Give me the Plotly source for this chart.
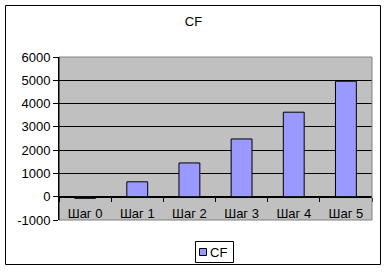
import plotly.graph_objects as go

categories = ["Шаг 0", "Шаг 1", "Шаг 2", "Шаг 3", "Шаг 4", "Шаг 5"]
cf_values = [-70, 640, 1450, 2480, 3630, 4960]
y_ticks = [-1000, 0, 1000, 2000, 3000, 4000, 5000, 6000]
series_name = "CF"
bar_color = "#9999FF"

W, H = 387, 272
L, R, T, B = 59, 15, 57, 52
pw, ph = W - L - R, H - T - B

def px_x(p):
    return (p - L) / pw

def px_y(p):
    return (H - B - p) / ph

fig = go.Figure()
fig.add_trace(go.Bar(
    x=categories, y=cf_values, name=series_name, width=0.4,
    marker=dict(color=bar_color, line=dict(color="black", width=1)),
    showlegend=False,
))

ymin, ymax = y_ticks[0], y_ticks[-1]
zero_pos = (0 - ymin) / (ymax - ymin)

font = dict(family="Liberation Sans, Arial", size=13, color="black")

fig.update_layout(
    width=W, height=H,
    margin=dict(l=L, r=R, t=T, b=B, autoexpand=False),
    paper_bgcolor="white",
    plot_bgcolor="#C0C0C0",
    font=font,
    title=dict(text=series_name, x=0.5, xref="container", xanchor="center",
               y=1 - 21 / H, yref="container", yanchor="middle",
               font=dict(family="Liberation Sans, Arial", size=13, color="black")),
    showlegend=False,
    xaxis=dict(
        range=[-0.5, 5.5], anchor="free", position=zero_pos,
        showline=True, linecolor="black", linewidth=1,
        ticks="outside", tickson="boundaries", ticklen=4, tickcolor="black",
        ticklabelstandoff=5,
        showgrid=False, zeroline=False, tickfont=font, fixedrange=True,
    ),
    yaxis=dict(
        range=[ymin, ymax], tickvals=y_ticks, ticktext=[str(v) for v in y_ticks],
        showline=True, linecolor="black", linewidth=1,
        ticks="outside", ticklen=5, tickcolor="black",
        showgrid=True, gridcolor="black", gridwidth=1, zeroline=False,
        tickfont=font, fixedrange=True,
    ),
)

gray = dict(color="#808080", width=1)
fig.add_shape(type="line", xref="paper", yref="paper", x0=0, x1=1, y0=1, y1=1, line=gray, layer="above")
fig.add_shape(type="line", xref="paper", yref="paper", x0=0, x1=1, y0=0, y1=0, line=gray, layer="above")
fig.add_shape(type="line", xref="paper", yref="paper", x0=1, x1=1, y0=0, y1=1, line=gray, layer="above")
fig.add_shape(type="line", xref="paper", yref="paper", x0=0, x1=0, y0=0, y1=1, line=dict(color="black", width=1), layer="above")
# outer chart border
fig.add_shape(type="rect", xref="paper", yref="paper",
              x0=px_x(5.5), x1=px_x(380.5), y0=px_y(264.5), y1=px_y(5.5),
              line=dict(color="black", width=1), layer="above")

# legend (box, swatch, label)
fig.add_shape(type="rect", xref="paper", yref="paper",
              x0=px_x(195.5), x1=px_x(233.5), y0=px_y(262.5), y1=px_y(241.5),
              line=dict(color="black", width=1), fillcolor="white", layer="above")
fig.add_shape(type="rect", xref="paper", yref="paper",
              x0=px_x(199.5), x1=px_x(206.5), y0=px_y(255.5), y1=px_y(248.5),
              line=dict(color="black", width=1), fillcolor=bar_color, layer="above")
fig.add_annotation(text=series_name, xref="paper", yref="paper",
                   x=px_x(208), y=px_y(252), xanchor="left", yanchor="middle",
                   showarrow=False, font=font)

fig.write_html("out.html")
